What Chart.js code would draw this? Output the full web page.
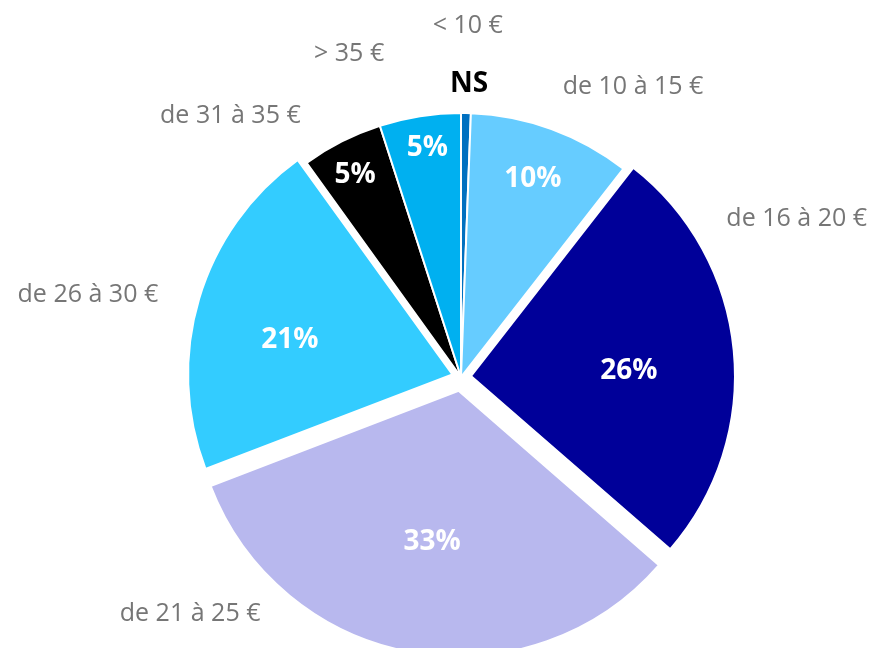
<!DOCTYPE html>
<html>
<head>
<meta charset="utf-8">
<script src="https://cdn.jsdelivr.net/npm/chart.js@4.4.0/dist/chart.umd.min.js"></script>
<style>
  html, body { margin: 0; padding: 0; background: #fff; }
  canvas { display: block; }
</style>
</head>
<body>
<canvas id="chart" width="872" height="648"></canvas>
<script>
// data
const categories = ['< 10 €', 'de 10 à 15 €', 'de 16 à 20 €', 'de 21 à 25 €', 'de 26 à 30 €', 'de 31 à 35 €', '> 35 €'];
const values = [0.6, 10, 26, 33, 21, 5, 5];
const valueLabels = ['NS', '10%', '26%', '33%', '21%', '5%', '5%'];
const colors = ['#0070C0', '#66CCFF', '#000099', '#B8B8EE', '#33CCFF', '#000000', '#00B0F0'];

// how far each slice is pulled out, in px (Chart.js v4 draws offset / 4)
const explode = [0, 0, 10, 14, 9, 0, 0];

// label placement: [angle from top in degrees, distance from centre in px]
const valueLabelPos = [[1.6, 293], [19.9, 211], [88, 168], [189.9, 168], [282.2, 175], [332.3, 228], [351.6, 231]];
const categoryLabelPos = [[1.1, 351], [30.7, 337], [64.8, 371], [228.8, 360], [282.4, 382], [318.5, 348], [340.9, 342]];

const FONT = '"Open Sans", "Liberation Sans", sans-serif';

function polar(x, y, [deg, dist]) {
  const a = (deg - 90) * Math.PI / 180;
  return [x + Math.cos(a) * dist, y + Math.sin(a) * dist];
}

const sliceLabels = {
  id: 'sliceLabels',
  afterDatasetsDraw(chart) {
    const ctx = chart.ctx;
    const arcs = chart.getDatasetMeta(0).data;
    ctx.save();
    ctx.textAlign = 'center';
    ctx.textBaseline = 'middle';

    arcs.forEach((arc, i) => {
      const { x, y } = arc.getProps(['x', 'y'], true);

      // value label (the tiny slice gets "NS", outside the pie)
      ctx.font = 'bold 28px ' + FONT;
      ctx.fillStyle = values[i] < 2 ? '#000000' : '#ffffff';
      ctx.fillText(valueLabels[i], ...polar(x, y, valueLabelPos[i]));

      // category name
      ctx.font = '25px ' + FONT;
      ctx.fillStyle = '#767676';
      ctx.fillText(categories[i], ...polar(x, y, categoryLabelPos[i]));
    });
    ctx.restore();
  }
};

new Chart(document.getElementById('chart').getContext('2d'), {
  type: 'pie',
  data: {
    labels: categories,
    datasets: [{
      data: values,
      backgroundColor: colors,
      borderColor: '#ffffff',
      borderWidth: 2,
      offset: explode.map(v => v * 4),
      hoverOffset: 0
    }]
  },
  options: {
    responsive: false,
    animation: false,
    radius: 264,
    layout: { padding: { left: 50, right: 0, top: 106, bottom: 0 } },
    plugins: {
      legend: { display: false },
      tooltip: { enabled: false }
    }
  },
  plugins: [sliceLabels]
});
</script>
</body>
</html>
